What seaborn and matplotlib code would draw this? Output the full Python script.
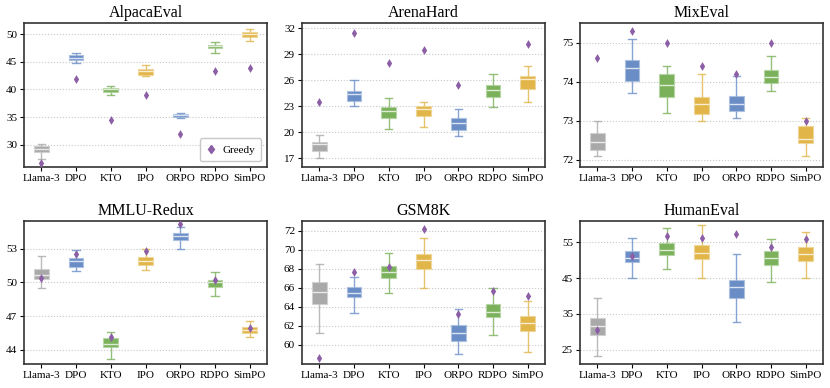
import matplotlib
matplotlib.use("Agg")
import numpy as np
import pandas as pd
import matplotlib.pyplot as plt
import matplotlib.colors as mcolors
from matplotlib.lines import Line2D
import seaborn as sns

models = ["Llama-3", "DPO", "KTO", "IPO", "ORPO", "RDPO", "SimPO"]

# five-number summaries per model: [whisker low, q1, median, q3, whisker high]
alpaca_box = [
    [27.4, 28.7, 29.2, 29.8, 30.2],
    [44.8, 45.4, 45.7, 46.3, 46.6],
    [39.0, 39.6, 40.0, 40.3, 40.7],
    [42.5, 42.7, 43.3, 43.7, 44.4],
    [34.8, 35.0, 35.3, 35.5, 35.7],
    [46.6, 47.4, 47.8, 48.1, 48.6],
    [48.8, 49.5, 50.0, 50.4, 50.9],
]
alpaca_greedy = [26.8, 41.8, 34.5, 39.0, 32.0, 43.3, 43.8]

arena_box = [
    [17.0, 17.9, 18.6, 18.9, 19.7],
    [23.0, 23.6, 24.4, 24.8, 26.0],
    [20.4, 21.7, 22.4, 22.9, 23.9],
    [20.6, 21.9, 22.7, 23.0, 23.5],
    [19.6, 20.3, 21.1, 21.6, 22.7],
    [22.9, 24.1, 24.9, 25.4, 26.7],
    [23.5, 25.0, 26.1, 26.5, 27.7],
]
arena_greedy = [23.5, 31.5, 28.0, 29.5, 25.5, np.nan, 30.2]

mix_box = [
    [72.1, 72.25, 72.46, 72.69, 73.0],
    [73.7, 74.03, 74.36, 74.57, 75.1],
    [73.2, 73.62, 73.92, 74.2, 74.4],
    [73.0, 73.17, 73.42, 73.6, 74.2],
    [73.07, 73.25, 73.42, 73.64, 74.15],
    [73.76, 73.97, 74.12, 74.31, 74.65],
    [72.1, 72.42, 72.53, 72.87, 73.06],
]
mix_greedy = [74.6, 75.3, 75.0, 74.4, 74.2, 75.0, 73.0]

mmlu_box = [
    [49.5, 50.3, 50.65, 51.2, 52.3],
    [51.0, 51.35, 51.9, 52.2, 52.85],
    [43.2, 44.2, 44.55, 45.05, 45.6],
    [51.1, 51.5, 51.9, 52.25, 53.0],
    [53.0, 53.8, 54.13, 54.4, 54.9],
    [48.8, 49.6, 50.0, 50.25, 50.9],
    [45.1, 45.5, 45.75, 46.0, 46.55],
]
mmlu_greedy = [50.4, 52.5, 45.1, 52.8, 55.2, 50.25, 45.9]

gsm_box = [
    [61.25, 64.25, 65.6, 66.6, 68.45],
    [63.3, 65.0, 65.5, 66.1, 67.15],
    [65.4, 67.0, 67.7, 68.3, 69.6],
    [66.0, 68.0, 68.95, 69.5, 71.2],
    [59.0, 60.4, 61.3, 62.05, 63.8],
    [61.05, 62.9, 63.5, 64.25, 66.0],
    [59.3, 61.45, 62.3, 63.0, 64.65],
]
gsm_greedy = [58.6, 67.65, 68.2, 72.2, 63.2, 65.7, 65.1]

human_box = [
    [23.2, 29.2, 31.7, 33.8, 39.6],
    [45.0, 49.4, 50.7, 52.6, 56.2],
    [47.5, 51.6, 53.0, 54.9, 59.1],
    [45.0, 50.4, 52.1, 54.3, 59.8],
    [32.8, 39.5, 42.6, 44.6, 51.8],
    [44.0, 48.7, 50.6, 52.5, 56.0],
    [45.0, 49.9, 51.9, 53.6, 57.9],
]
human_greedy = [30.5, 51.2, 56.7, 56.2, 57.3, 53.7, 56.0]

titles = ["AlpacaEval", "ArenaHard", "MixEval", "MMLU-Redux", "GSM8K", "HumanEval"]
boxes = [alpaca_box, arena_box, mix_box, mmlu_box, gsm_box, human_box]
greedys = [alpaca_greedy, arena_greedy, mix_greedy, mmlu_greedy, gsm_greedy, human_greedy]

# axis settings per panel
ylims = [(26.0, 52.0), (16.0, 32.6), (71.81, 75.51), (42.73, 55.46), (58.0, 73.0), (21.0, 61.0)]
yticks = [
    [30, 35, 40, 45, 50],
    [17, 20, 23, 26, 29, 32],
    [72, 73, 74, 75],
    [44, 47, 50, 53],
    [60, 62, 64, 66, 68, 70, 72],
    [25, 35, 45, 55],
]

gray = "#a9a9a9"
blue = "#6a8dc6"
green = "#7ab15a"
gold = "#e1b548"
palette = [gray, blue, green, gold, blue, green, gold]
purple = "#8c5ea6"


def tint(c, f=0.45):
    r = np.array(mcolors.to_rgb(c))
    return tuple(r + (1 - r) * f)


plt.rcParams["font.family"] = ["Liberation Serif", "DejaVu Serif"]

fig = plt.figure(figsize=(8.3, 3.88), dpi=100)
W, H = 830, 388
lefts = [24, 302, 580]
aw = 243
positions = []
for top, bot in [(23, 167), (221, 364)]:
    for l in lefts:
        positions.append([l / W, (H - bot) / H, aw / W, (bot - top) / H])

for i, pos in enumerate(positions):
    ax = fig.add_axes(pos)
    df = pd.DataFrame(
        [(m, v) for m, row in zip(models, boxes[i]) for v in row],
        columns=["model", "score"],
    )
    sns.boxplot(
        data=df, x="model", y="score", hue="model", order=models,
        hue_order=models, palette=palette, whis=(0, 100), width=0.42,
        linewidth=0.8, linecolor="white", saturation=1, legend=False, ax=ax,
    )
    for cont, c in zip(ax.containers, palette):
        for ln in list(cont.whiskers) + list(cont.caps):
            ln.set_color(c)
            ln.set_alpha(0.8)
            ln.set_linewidth(1.0)
        for p in cont.boxes:
            p.set_edgecolor(tint(c))
        for ln in cont.medians:
            ln.set_color(tint(c, 0.75))
            ln.set_linewidth(1.0)

    sns.stripplot(
        x=models, y=greedys[i], order=models, jitter=False, marker="d",
        color=purple, size=4.5, linewidth=0, ax=ax, zorder=5,
    )

    ax.set_xlim(-0.5, 6.5)
    ax.set_ylim(*ylims[i])
    ax.set_yticks(yticks[i])
    ax.set_xlabel("")
    ax.set_ylabel("")
    ax.set_title(titles[i], fontsize=11.5, pad=4)
    ax.yaxis.grid(True, linestyle=":", color="#c8c8c8", linewidth=0.8)
    ax.set_axisbelow(True)
    ax.tick_params(labelsize=8, length=3, width=0.8, pad=2)
    for sp in ax.spines.values():
        sp.set_color("#333333")
        sp.set_linewidth(1.2)

    if i == 0:
        handle = Line2D([], [], marker="d", color=purple, linestyle="none", markersize=4.5)
        ax.legend([handle], ["Greedy"], loc="lower right", fontsize=8,
                  frameon=True, edgecolor="#bbbbbb", handlelength=0.8,
                  handletextpad=0.6, borderpad=0.6)

fig.savefig("out.png", dpi=100)
